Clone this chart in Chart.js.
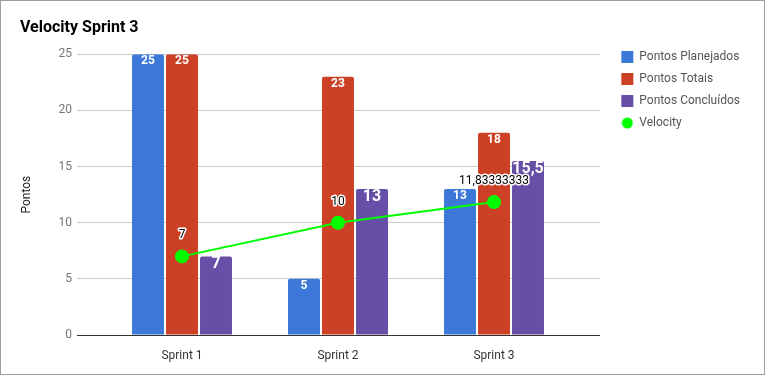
<!DOCTYPE html>
<html>
<head>
<meta charset="utf-8">
<script src="https://cdn.jsdelivr.net/npm/chart.js@4/dist/chart.umd.min.js"></script>
<style>
  body { margin: 0; background: #fff; }
  #wrap { width: 765px; height: 375px; box-sizing: border-box; border: 1px solid #9e9e9e; }
  canvas { display: block; }
</style>
</head>
<body>
<div id="wrap"><canvas id="chart" width="763" height="373"></canvas></div>
<script>
const sprints = ["Sprint 1", "Sprint 2", "Sprint 3"];
const pontosPlanejados = [25, 5, 13];
const pontosTotais = [25, 23, 18];
const pontosConcluidos = [7, 13, 15.5];
const velocity = [7, 10, 11.83333333];
const yTicks = [0, 5, 10, 15, 20, 25];

// numbers shown with a decimal comma, like the sheet
const fmt = v => String(v).replace(".", ",");

const gridColor = ctx => (ctx.tick && ctx.tick.value === 0 ? "#333333" : "#cccccc");

// small green dot for the legend
const dot = document.createElement("canvas");
dot.width = 12; dot.height = 12;
const dctx = dot.getContext("2d");
dctx.fillStyle = "#00ff00";
dctx.beginPath(); dctx.arc(6, 6, 5.5, 0, Math.PI * 2); dctx.fill();

const valueLabels = {
  id: "valueLabels",
  afterDatasetsDraw(chart) {
    const ctx = chart.ctx;
    chart.data.datasets.forEach((ds, i) => {
      const meta = chart.getDatasetMeta(i);
      meta.data.forEach((el, j) => {
        const txt = fmt(ds.data[j]);
        ctx.save();
        ctx.textAlign = "center";
        ctx.textBaseline = "middle";
        if (ds.type === "line") {
          ctx.font = "12px Roboto";
          ctx.lineWidth = 3;
          ctx.lineJoin = "round";
          ctx.strokeStyle = "#ffffff";
          ctx.strokeText(txt, el.x, el.y - 21);
          ctx.fillStyle = "#000000";
          ctx.fillText(txt, el.x, el.y - 21);
        } else {
          const big = i === 2;
          ctx.font = big ? "bold 16px Roboto" : "bold 12px Roboto";
          ctx.fillStyle = "#ffffff";
          ctx.fillText(txt, el.x, el.y + (big ? 8 : 7));
        }
        ctx.restore();
      });
    });
  }
};

const barStyle = { borderRadius: { topLeft: 2, topRight: 2 }, borderSkipped: "start", pointStyle: "rect", order: 1 };

new Chart(document.getElementById("chart"), {
  type: "bar",
  data: {
    labels: sprints,
    datasets: [
      { label: "Pontos Planejados", data: pontosPlanejados, backgroundColor: "#3c78d8", ...barStyle },
      { label: "Pontos Totais", data: pontosTotais, backgroundColor: "#cc4125", ...barStyle },
      { label: "Pontos Concluídos", data: pontosConcluidos, backgroundColor: "#674ea7", ...barStyle },
      {
        type: "line", label: "Velocity", data: velocity, order: 0,
        borderColor: "#00ff00", backgroundColor: "#00ff00", borderWidth: 2,
        pointRadius: 6, pointHoverRadius: 6, pointStyle: "circle", tension: 0
      }
    ]
  },
  options: {
    responsive: false,
    animation: false,
    layout: { padding: { left: 19, right: 14, top: 0, bottom: 0 } },
    datasets: { bar: { categoryPercentage: 0.654, barPercentage: 0.94 } },
    plugins: {
      title: {
        display: true, text: "Velocity Sprint 3", align: "start", color: "#000",
        font: { family: "Roboto", size: 16, weight: "bold" },
        padding: { top: 17, bottom: 1 }
      },
      legend: {
        position: "right", align: "start", maxWidth: 220,
        title: { display: true, text: " ", padding: { top: 0, bottom: 25.6 }, font: { family: "Roboto", size: 12 } },
        labels: {
          usePointStyle: true, boxHeight: 12, boxWidth: 12, padding: 10, color: "#555",
          font: { family: "Roboto", size: 12 },
          sort: (a, b) => a.datasetIndex - b.datasetIndex,
          generateLabels(chart) {
            const items = Chart.defaults.plugins.legend.labels.generateLabels(chart);
            items.forEach(it => { if (it.datasetIndex === 3) it.pointStyle = dot; });
            return items;
          }
        }
      },
      tooltip: { enabled: false }
    },
    scales: {
      x: {
        grid: { display: false }, border: { display: false },
        ticks: { color: "#333", padding: 6, font: { family: "Roboto", size: 12 } },
        afterFit: s => { s.height = 39; }
      },
      xTop: {
        type: "category", position: "top", labels: sprints,
        grid: { display: false }, border: { display: false }, ticks: { display: false },
        afterFit: s => { s.height = 16; }
      },
      y: {
        min: 0, max: 25,
        afterBuildTicks: s => { s.ticks = yTicks.map(v => ({ value: v })); },
        grid: { color: gridColor, tickLength: 27 },
        border: { display: false },
        ticks: { color: "#757575", padding: 5, font: { family: "Roboto", size: 12 } },
        title: { display: true, text: "Pontos", color: "#222", padding: 0, font: { family: "Roboto", size: 12 } },
        afterFit: s => { s.width = 84; }
      },
      y2: {
        position: "right", min: 0, max: 25,
        afterBuildTicks: s => { s.ticks = yTicks.map(v => ({ value: v })); },
        grid: { color: gridColor, tickLength: 28, drawOnChartArea: false },
        border: { display: false },
        ticks: { display: false },
        afterFit: s => { s.width = s.chart.width - 14 - s.chart.legend.width - 571; }
      }
    }
  },
  plugins: [valueLabels]
});
</script>
</body>
</html>
